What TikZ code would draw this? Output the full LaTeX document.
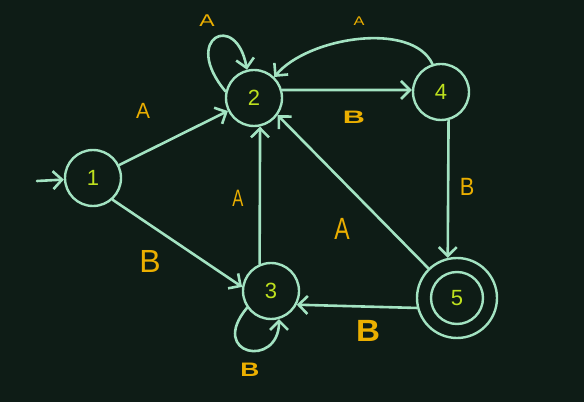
\documentclass[tikz,border=0pt]{standalone}
\usepackage{fontspec}
\setmainfont{Liberation Sans}
\usetikzlibrary{arrows.meta}
\definecolor{bg}{HTML}{0E1C16}
\definecolor{ink}{HTML}{A3E3C2}
\definecolor{numc}{HTML}{BEE11E}
\definecolor{lblc}{HTML}{EBAF00}
\newcommand{\fsz}[1]{\fontsize{#1}{#1}\selectfont}
\begin{document}
\begin{tikzpicture}[x=1pt,y=1pt,
  state/.style={circle, draw=ink, line width=2.4pt, minimum size=56pt,
    inner sep=0pt, text=numc, font=\fsz{22}},
  accept/.style={state, minimum size=80pt},
  trans/.style={draw=ink, line width=2.6pt, line cap=round,
    -{Straight Barb[length=9pt,width=18pt]}},
  lbl/.style={text=lblc, inner sep=0pt},
]
\fill[bg] (0,0) rectangle (584,402);
\useasboundingbox (0,0) rectangle (584,402);

% states
\node[state] (n1) at (93,224) {1};
\node[state] (n2) at (254,304) {2};
\node[state] (n4) at (441,310) {4};
\node[state] (n3) at (271,111) {3};
\node[accept] (n5) at (457,104) {5};
\draw[draw=ink, line width=2.4pt] (n5.center) circle[radius=26];

% transitions
\coordinate (start) at (37,221);
\draw[trans] (start) -- (n1);
\draw[trans] (n1) -- (n2);
\draw[trans] (n1.312) -- (n3.172);
\draw[trans] (n2.16) -- (n4.176);
\draw[trans] (n4.107) .. controls +(115:48) and +(50:52) .. (n2.46);
\draw[trans] (n3.113) -- (n2.282);
\draw[trans] (n4.285) -- (n5.103);
\draw[trans] (n5.134) -- (n2.324);
\draw[trans] (n5.194) -- (n3.332);
\draw[trans] (n2.167) .. controls +(130:70) and +(100:60) .. (n2.104);
\draw[trans] (n3.215) .. controls +(230:62) and +(270:50) .. (n3.286);

% transition labels
\node[lbl, font=\fsz{22}, xscale=0.95] (a12) at (143,291) {A};
\node[lbl, font=\fsz{32}] (b13) at (150,141) {B};
\node[lbl, font=\fsz{17}, xscale=1.35] (a22) at (207,381) {A};
\node[lbl, font=\fsz{12.6}, xscale=1.3] (a42) at (359,381) {A};
\node[lbl, font=\fsz{18}\bfseries, xscale=1.7] (b24) at (354,285) {B};
\node[lbl, font=\fsz{25}, xscale=0.87] (b45) at (467,215) {B};
\node[lbl, font=\fsz{23.7}, xscale=0.7] (a32) at (238,204) {A};
\node[lbl, font=\fsz{30.7}, xscale=0.75] (a52) at (342,173) {A};
\node[lbl, font=\fsz{30.7}\bfseries, xscale=1.08] (b53) at (368,71) {B};
\node[lbl, font=\fsz{19.5}\bfseries, xscale=1.35] (b33) at (250,32) {B};
\end{tikzpicture}
\end{document}
